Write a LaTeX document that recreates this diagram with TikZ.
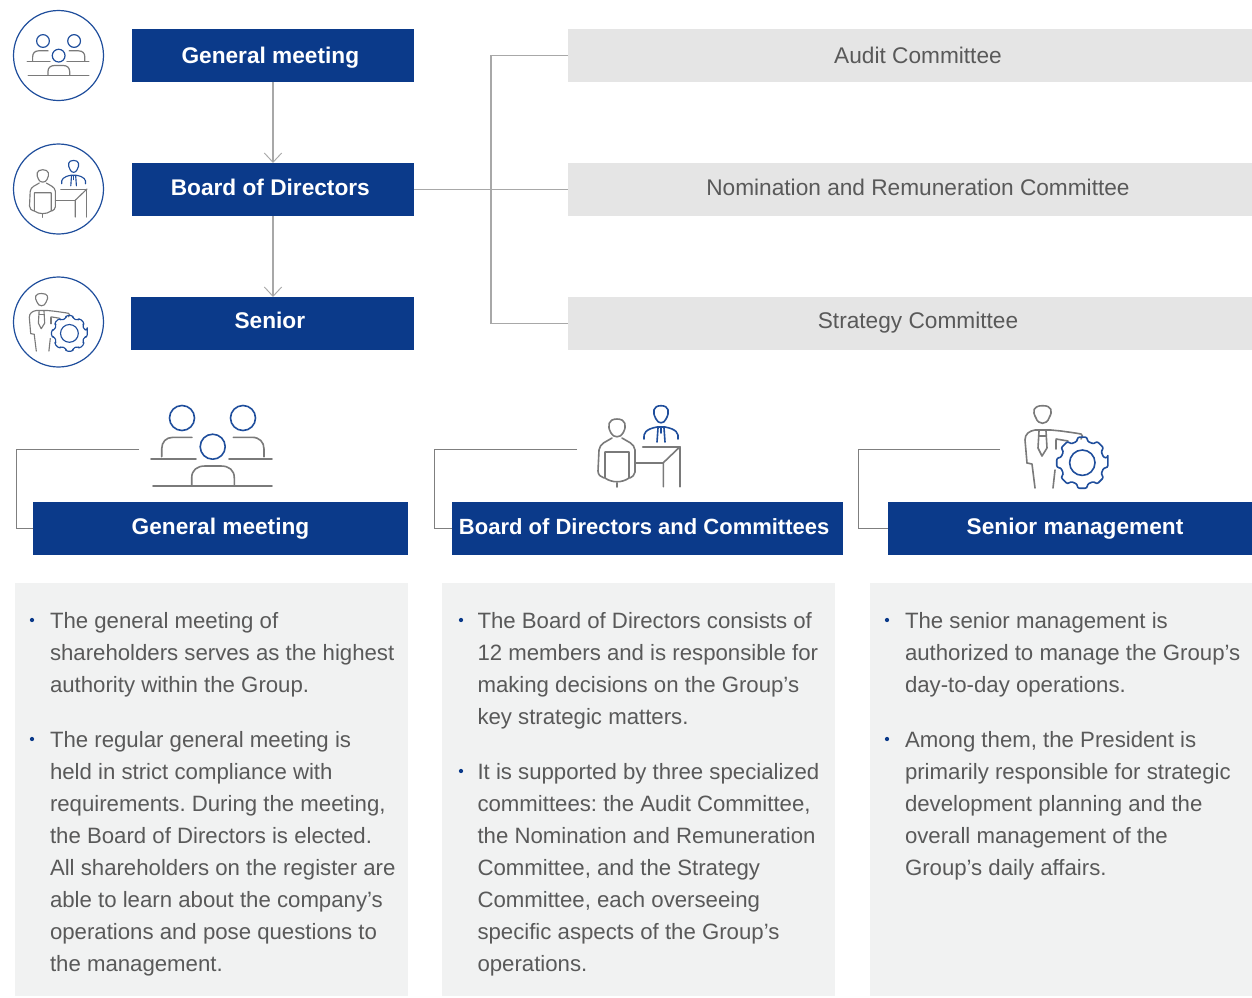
\documentclass[tikz,border=0pt]{standalone}
\usepackage{fontspec}
\setmainfont{Liberation Sans}
\usetikzlibrary{arrows.meta}
\definecolor{navy}{HTML}{0B3A8A}
\definecolor{iconblue}{HTML}{1F4E9C}
\definecolor{icongray}{HTML}{7A7A7A}
\definecolor{linegray}{HTML}{A8A8A8}
\definecolor{darkline}{HTML}{7F7F7F}
\definecolor{cmtgray}{HTML}{E5E5E5}
\definecolor{panelgray}{HTML}{F1F2F2}
\definecolor{bodytext}{HTML}{595959}
\newcommand{\lbl}[3]{\hspace*{#1pt}\raisebox{#2pt}{#3}}
\frenchspacing
\tikzset{
  x=0.75pt,y=-0.75pt,
  boxbase/.style={inner sep=0pt,outer sep=0pt,text height=8pt,text depth=0pt,anchor=north west},
  bluebox/.style={boxbase,fill=navy,text=white,font=\fontsize{17pt}{20pt}\selectfont\bfseries},
  cmtbox/.style={boxbase,fill=cmtgray,text=bodytext,font=\fontsize{17pt}{20pt}\selectfont},
  panel/.style={inner sep=0pt,outer sep=0pt,fill=panelgray,anchor=north west},
  para/.style={inner sep=0pt,outer sep=0pt,anchor=north west,align=left,text=bodytext,font=\fontsize{16.65pt}{24pt}\selectfont},
  dot/.style={circle,fill=navy,inner sep=0pt,minimum size=3.2pt},
  flow/.style={draw=linegray,line width=0.9pt},
  flowarrow/.style={flow,-{Straight Barb[length=7pt,width=13pt,line width=0.7pt]}},
  elbow/.style={draw=darkline,line width=0.75pt},
  ig/.style={draw=icongray,line width=#1,line cap=round,line join=round},
  ib/.style={draw=iconblue,line width=#1,line cap=round,line join=round},
  ring/.style={draw=iconblue,line width=0.9pt},
}
% icons are drawn in the coordinates of their large versions
\newcommand{\iconmeeting}[1]{%
  \draw[ib=#1] (182,418) circle (12.5);
  \draw[ib=#1] (243,418) circle (12.5);
  \draw[ib=#1] (212.7,446.7) circle (12.5);
  \draw[ig=#1] (161.7,456.7) -- (161.7,449) .. controls (161.7,442) and (166,437.3) .. (173,437.3) -- (192,437.3);
  \draw[ig=#1] (264,456.7) -- (264,449) .. controls (264,442) and (259.5,437.3) .. (252,437.3) -- (233.3,437.3);
  \draw[ig=#1] (151,458.7) -- (196,458.7);
  \draw[ig=#1] (229,458.7) -- (272,458.7);
  \draw[ig=#1] (191.7,485) -- (191.7,478) .. controls (191.7,470) and (197,466) .. (205,466) -- (221,466) .. controls (229,466) and (234.3,470) .. (234.3,478) -- (234.3,485);
  \draw[ig=#1] (153,486) -- (272,486);
}
\newcommand{\iconboard}[1]{%
  % seated figure
  \draw[ig=#1] (611,433) .. controls (607,426) and (608,419) .. (617,419) .. controls (626,419) and (627,426) .. (623,433) .. controls (621,438) and (613,438) .. (611,433) -- cycle;
  \draw[ig=#1] (612,438) .. controls (606,442) and (600,443) .. (599,450) -- (598,471) .. controls (598,475) and (601,477) .. (604,478);
  \draw[ig=#1] (622,438) .. controls (628,442) and (634,443) .. (635,450) -- (635,472) .. controls (635,475) and (632,477) .. (630,478);
  \draw[ig=#1] (605,452) -- (629,452) -- (629,478) .. controls (622,483) and (612,483) .. (605,478) -- cycle;
  \draw[ig=#1] (617,483) -- (617,487);
  % desk
  \draw[ig=#1] (642.7,446.7) -- (680,446.7) -- (680,486.7);
  \draw[ig=#1] (680,446.7) -- (663.3,462.7) -- (663.3,486.7);
  \draw[ig=#1] (635,462.7) -- (663.3,462.7);
  % standing figure
  \draw[ib=#1] (656,419) .. controls (652,412) and (653,405.7) .. (661,405.7) .. controls (669,405.7) and (670,412) .. (666,419) .. controls (664,424) and (658,424) .. (656,419) -- cycle;
  \draw[ib=#1] (644,439) .. controls (643,433) and (646,429) .. (657,427) -- (665,427) .. controls (676,429) and (679,433) .. (678,439);
  \draw[ib=#1] (658,428) -- (657,442);
  \draw[ib=#1] (664,428) -- (665,442);
  \draw[ib=#1] (661,428) -- (661,433);
}
\newcommand{\iconsenior}[1]{%
  \draw[ig=#1] (1036,418) .. controls (1032,411) and (1033,405.7) .. (1042.7,405.7) .. controls (1052,405.7) and (1053,411) .. (1049,418) .. controls (1047,425) and (1038,425) .. (1036,418) -- cycle;
  \draw[ig=#1] (1027,463) -- (1025,440) .. controls (1025,434) and (1029,431) .. (1035,430) -- (1051,430) -- (1061,431) .. controls (1068,432) and (1076,433) .. (1081,434) .. controls (1083,435) and (1083,437) .. (1081,439);
  \draw[ig=#1] (1027,463) -- (1032,464) -- (1035,488);
  \draw[ig=#1] (1056,440) -- (1056,449);
  \draw[ig=#1] (1056,439) -- (1068,441);
  \draw[ig=#1] (1055,470) -- (1053,488);
  \draw[ig=#1] (1039,431) -- (1038,448) -- (1042,456) -- (1047,448) -- (1046,431);
  \draw[ig=#1] (1039,436) -- (1046,436);
  \draw[ib=#1] (1082.3,462.7) circle (12.7);
  \draw[ib=#1,rounded corners=1.6] ({1082.3+26*cos(-11)},{462.7+26*sin(-11)})
    \foreach \a in {0,45,...,315} {
      -- ({1082.3+26*cos(\a-11)},{462.7+26*sin(\a-11)})
      -- ({1082.3+26*cos(\a+11)},{462.7+26*sin(\a+11)})
      -- ({1082.3+22*cos(\a+13)},{462.7+22*sin(\a+13)})
      -- ({1082.3+22*cos(\a+32)},{462.7+22*sin(\a+32)})
    } -- cycle;
}
\begin{document}
\begin{tikzpicture}
\useasboundingbox[fill=white] (0,0) rectangle (1252,997);

% top-left chain
\node[bluebox,minimum width=211.5pt,minimum height=39.75pt] (gm) at (132,29) {\lbl{-4}{-2}{General meeting}};
\node[bluebox,minimum width=211.5pt,minimum height=39.75pt] (bd) at (132,163) {\lbl{-4}{-0.25}{Board of Directors}};
\node[bluebox,minimum width=212.25pt,minimum height=39.75pt] (sr) at (131,297) {\lbl{-4}{0.25}{Senior}};

% committees
\node[cmtbox,minimum width=513pt,minimum height=39.75pt] (ac) at (568,29) {\lbl{12}{-2}{Audit Committee}};
\node[cmtbox,minimum width=513pt,minimum height=39.75pt] (nr) at (568,163) {\lbl{12}{-0.25}{Nomination and Remuneration Committee}};
\node[cmtbox,minimum width=513pt,minimum height=39.75pt] (sc) at (568,297) {\lbl{12}{0.25}{Strategy Committee}};

% connectors
\draw[flowarrow] (gm.south -| 273,0) -- (bd.north -| 273,0);
\draw[flowarrow] (bd.south -| 273,0) -- (sr.north -| 273,0);
\draw[flow] (bd.east) -- (nr.west);
\draw[flow] (ac.west) -- (491,0 |- ac.west) -- (491,0 |- sc.west) -- (sc.west);

% small icons
\draw[ring] (58.5,55.5) circle (45);
\draw[ring] (58.5,189) circle (45);
\draw[ring] (58.5,322) circle (45);
\begin{scope}[shift={(43,41)},scale=.51,shift={(-182,-418)}]\iconmeeting{0.9pt}\end{scope}
\begin{scope}[shift={(42.8,176)},scale=.7,shift={(-617,-428)}]\iconboard{0.85pt}\end{scope}
\begin{scope}[shift={(41.7,300)},scale=.7,shift={(-1042.7,-415)}]\iconsenior{0.85pt}\end{scope}

% large icons
\iconmeeting{1.2pt}
\iconboard{1.2pt}
\iconsenior{1.2pt}

% column headers
\node[bluebox,minimum width=281.25pt,minimum height=39.75pt] (h1) at (33,502) {\lbl{0}{-0.75}{General meeting}};
\node[bluebox,minimum width=293.25pt,minimum height=39.75pt] (h2) at (452,502) {\lbl{-5}{-0.75}{\fontsize{16.5pt}{20pt}\selectfont Board of Directors and Committees}};
\node[bluebox,minimum width=273pt,minimum height=39.75pt] (h3) at (888,502) {\lbl{7.5}{-0.75}{Senior management}};

\coordinate (e1) at (139,449.5);
\coordinate (e2) at (577,449.5);
\coordinate (e3) at (1000,449.5);
\draw[elbow] (e1) -- (16,0 |- e1) -- (16,0 |- h1.west) -- (h1.west);
\draw[elbow] (e2) -- (434,0 |- e2) -- (434,0 |- h2.west) -- (h2.west);
\draw[elbow] (e3) -- (858,0 |- e3) -- (858,0 |- h3.west) -- (h3.west);

% panels
\node[panel,minimum width=294.75pt,minimum height=309.75pt] (p1) at (15,583) {};
\node[panel,minimum width=294.75pt,minimum height=309.75pt] (p2) at (442,583) {};
\node[panel,minimum width=286.5pt,minimum height=309.75pt] (p3) at (870,583) {};

% column 1
\node[dot] (d11) at (32,620) {};
\node[para] (t11) at (50,612.3) {The general meeting of\\shareholders serves as the highest\\authority within the Group.};
\node[dot] (d12) at (32,739) {};
\node[para] (t12) at (50,731.3) {The regular general meeting is\\held in strict compliance with\\requirements. During the meeting,\\the Board of Directors is elected.\\All shareholders on the register are\\able to learn about the company’s\\operations and pose questions to\\the management.};

% column 2
\node[dot] (d21) at (461,620) {};
\node[para] (t21) at (477.5,612.3) {The Board of Directors consists of\\12 members and is responsible for\\making decisions on the Group’s\\key strategic matters.};
\node[dot] (d22) at (461,771) {};
\node[para] (t22) at (477.5,763.3) {It is supported by three specialized\\committees: the Audit Committee,\\the Nomination and Remuneration\\Committee, and the Strategy\\Committee, each overseeing\\specific aspects of the Group’s\\operations.};

% column 3
\node[dot] (d31) at (887,620) {};
\node[para] (t31) at (905,612.3) {The senior management is\\authorized to manage the Group’s\\day-to-day operations.};
\node[dot] (d32) at (887,739) {};
\node[para] (t32) at (905,731.3) {Among them, the President is\\primarily responsible for strategic\\development planning and the\\overall management of the\\Group’s daily affairs.};
\end{tikzpicture}
\end{document}
